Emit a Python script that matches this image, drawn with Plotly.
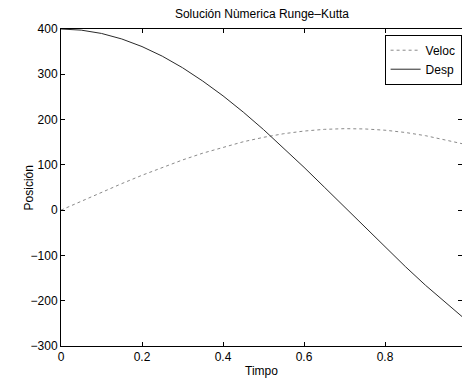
import plotly.graph_objects as go

# Data
tiempo = [0.0, 0.05, 0.1, 0.15, 0.2, 0.25, 0.3, 0.35, 0.4, 0.45, 0.5,
          0.55, 0.6, 0.65, 0.7, 0.75, 0.8, 0.85, 0.9, 0.95, 0.99]
veloc = [0, 20, 39.5, 58.6, 77, 94.5, 110.8, 125.8, 139.2, 151, 160.8,
         168.8, 174.6, 178.4, 179.9, 179.3, 176.5, 171.5, 164.4, 155.3, 146.8]
desp = [400, 397.5, 390.2, 378, 361.2, 340, 314.5, 285, 252.4, 216.5, 177.9,
        137, 94.6, 50.9, 6.7, -37.6, -81.5, -124.5, -166, -205, -235]

x_ticks = [0, 0.2, 0.4, 0.6, 0.8]
x_tick_labels = ["0", "0.2", "0.4", "0.6", "0.8"]
y_ticks = [400, 300, 200, 100, 0, -100, -200, -300]

font_family = "Liberation Sans, Arial, sans-serif"
fnt = dict(size=12, color="black", family=font_family)

fig = go.Figure()
fig.add_trace(go.Scatter(x=tiempo, y=veloc, mode="lines", name="Veloc",
                         line=dict(color="#8a8a8a", width=1, dash="dot")))
fig.add_trace(go.Scatter(x=tiempo, y=desp, mode="lines", name="Desp",
                         line=dict(color="#2a2a2a", width=1)))

axis_common = dict(showgrid=False, zeroline=False, showline=True,
                   linecolor="black", linewidth=1, mirror="ticks",
                   ticks="inside", ticklen=4, tickcolor="black",
                   tickfont=fnt)

fig.update_xaxes(range=[0, 0.99], tickvals=x_ticks, ticktext=x_tick_labels,
                 title=dict(text="Timpo", font=fnt, standoff=3),
                 **axis_common)
fig.update_yaxes(range=[-300, 400], tickvals=y_ticks, **axis_common)

fig.add_annotation(text="Posición", textangle=-90, xref="paper", yref="paper",
                   x=-0.08, y=0.5, xanchor="center", yanchor="middle",
                   showarrow=False, font=fnt)

fig.update_layout(
    width=462, height=381,
    margin=dict(l=61, r=0, t=29, b=35),
    paper_bgcolor="white", plot_bgcolor="white",
    font=fnt,
    title=dict(text="Solución Nùmerica Runge–Kutta", x=0.567, xanchor="center",
               y=0.965, yanchor="middle", font=fnt),
    legend=dict(x=0.999, xanchor="right", y=0.982, yanchor="top",
                bgcolor="white", bordercolor="black", borderwidth=1,
                font=fnt, tracegroupgap=0, itemwidth=30),
    showlegend=True,
)

fig.write_html("out.html")
